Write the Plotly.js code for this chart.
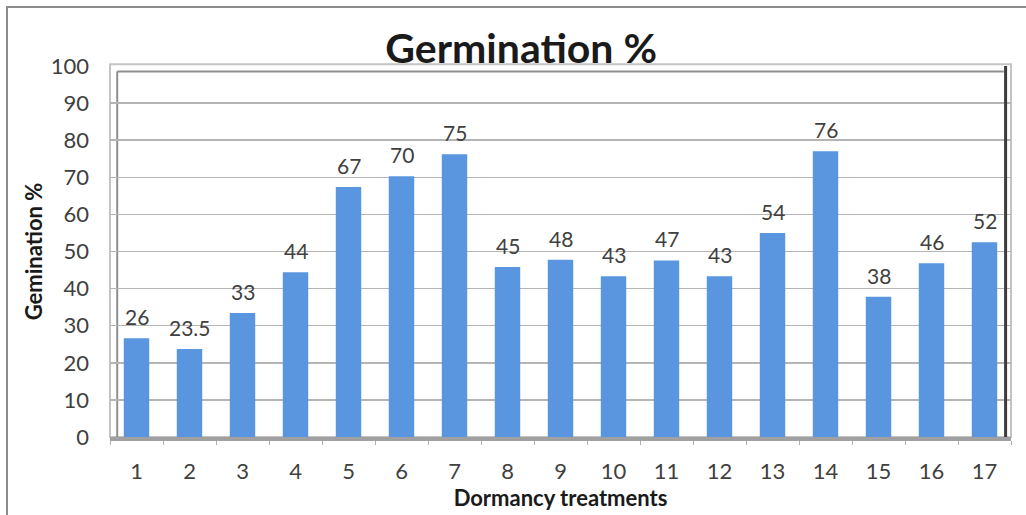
<!DOCTYPE html>
<html>
<head>
<meta charset="utf-8">
<script src="https://cdn.plot.ly/plotly-3.0.1.min.js"></script>
<style>
  html, body { margin: 0; padding: 0; background: #fff; }
  #wrap { position: relative; width: 1026px; height: 515px; overflow: hidden; }
  #frame { position: absolute; left: 6px; top: 6px; width: 1100px; height: 600px;
           border-left: 2px solid #8c8c8c; border-top: 2px solid #8c8c8c; pointer-events: none; }
  #chart { position: absolute; left: 0; top: 0; width: 1026px; height: 515px; }
</style>
</head>
<body>
<div id="wrap">
  <div id="chart"></div>
  <div id="frame"></div>
</div>
<script>
// Data
const treatments = ['1','2','3','4','5','6','7','8','9','10','11','12','13','14','15','16','17'];
const germination = [26.6, 23.7, 33.4, 44.4, 67.4, 70.3, 76.2, 45.8, 47.8, 43.3, 47.6, 43.3, 55.0, 77.0, 37.8, 46.8, 52.5];
const labels = ['26', '23.5', '33', '44', '67', '70', '75', '45', '48', '43', '47', '43', '54', '76', '38', '46', '52'];
const yTicks = [0, 10, 20, 30, 40, 50, 60, 70, 80, 90, 100];

const fontFam = 'Lato, "Open Sans", sans-serif';
const textCol = '#404040';

const trace = {
  type: 'bar',
  x: treatments,
  y: germination,
  marker: { color: '#5a96df', line: { width: 0 } },
  hoverinfo: 'x+y'
};

// category index positions so labels sit over their own bars
const annotations = treatments.map((t, i) => ({
  x: i, y: germination[i], xref: 'x', yref: 'y',
  text: labels[i], showarrow: false, yanchor: 'bottom', yshift: 7,
  font: { family: fontFam, size: 21, color: textCol }
}));

const layout = {
  width: 1026, height: 515,
  margin: { l: 110, r: 15, t: 66, b: 78 },
  paper_bgcolor: '#ffffff',
  plot_bgcolor: '#ffffff',
  bargap: 0.52,
  showlegend: false,
  title: {
    text: '<b>Germination %</b>',
    font: { family: fontFam, size: 41, color: '#1a1a1a' },
    x: 0.508, xanchor: 'center', y: 0.905, yanchor: 'middle'
  },
  xaxis: {
    type: 'category',
    range: [-0.5, 16.5],
    tickson: 'boundaries',
    ticks: 'outside', ticklen: 4, tickcolor: '#b0b0b0',
    ticklabelstandoff: 12,
    tickfont: { family: fontFam, size: 22, color: textCol },
    showgrid: false,
    showline: true, linecolor: '#a0a0a0', linewidth: 4,
    zeroline: false,
    title: { text: '<b>Dormancy treatments</b>', font: { family: fontFam, size: 22, color: '#1a1a1a' }, standoff: 6 }
  },
  yaxis: {
    range: [0, 100],
    tickvals: yTicks,
    ticks: '',
    ticklabelstandoff: 20,
    tickfont: { family: fontFam, size: 22, color: textCol },
    showgrid: true, gridcolor: '#b5b5b5', gridwidth: 1.5,
    zeroline: false,
    showline: false,
    title: { text: '<b>Gemination %</b>', font: { family: fontFam, size: 22, color: '#1a1a1a' }, standoff: 2 }
  },
  shapes: [
    { type: 'rect', xref: 'paper', yref: 'paper', x0: 0, x1: 1, y0: 0, y1: 1.005,
      line: { color: '#c4c4c4', width: 2 }, fillcolor: 'rgba(0,0,0,0)', layer: 'below' },
    { type: 'line', xref: 'paper', yref: 'paper', x0: 0.008, x1: 0.008, y0: 0, y1: 0.985,
      line: { color: '#8f8f8f', width: 2 }, layer: 'below' },
    { type: 'line', xref: 'paper', yref: 'paper', x0: 0.008, x1: 0.992, y0: 0.985, y1: 0.985,
      line: { color: '#8f8f8f', width: 2 }, layer: 'below' },
    { type: 'line', xref: 'paper', yref: 'paper', x0: 0.994, x1: 0.994, y0: 0, y1: 1.0,
      line: { color: '#3c3c3c', width: 3 }, layer: 'above' }
  ],
  annotations: annotations
};

Plotly.newPlot('chart', [trace], layout, { displayModeBar: false, staticPlot: true });
</script>
</body>
</html>
